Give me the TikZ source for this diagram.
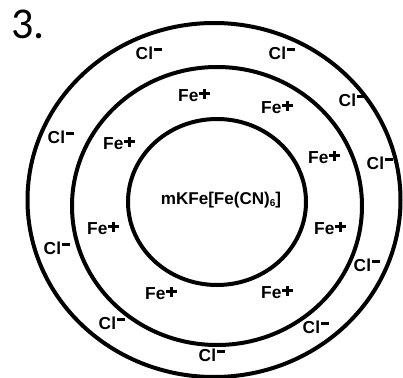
\documentclass[tikz,border=0pt]{standalone}
\usepackage{fontspec}
\setmainfont{Liberation Sans}
\newfontfamily\numfont{Carlito}
% ion labels: chloride with a heavy raised minus, iron with a heavy plus
\newcommand{\chlor}{\textbf{Cl}\hspace{0.08em}\raisebox{0.45em}{\rule{0.45em}{0.19em}}}
\newcommand{\heavyplus}{\rlap{\raisebox{0.36em}{\rule{0.62em}{0.15em}}}\hspace{0.235em}\raisebox{0.12em}{\rule{0.15em}{0.6em}}\hspace{0.235em}}
\newcommand{\ferr}{\textbf{Fe}\hspace{0.04em}\heavyplus}
\begin{document}
\begin{tikzpicture}[x=0.75pt,y=-0.75pt,
  ring/.style={draw=black,line width=3pt},
  ion/.style={inner sep=0pt,font=\fontsize{13}{15}\selectfont},
  core/.style={inner sep=0pt,font=\fontsize{12.8}{14}\selectfont\bfseries}]
\useasboundingbox[fill=white] (0,0) rectangle (403,378);
% three concentric layers
\draw[ring] (214,200) ellipse [x radius=186.5,y radius=177];
\draw[ring] (217,206) ellipse [x radius=145,y radius=139];
\draw[ring] (217,202) ellipse [x radius=89,y radius=83];
% item number
\node[inner sep=0pt,font=\numfont\fontsize{33}{36}\selectfont] (num) at (28,24) {3.};
% core compound
\node[core] (cpd) at (221,200) {mKFe[Fe(CN)\raisebox{-0.12em}{\fontsize{7.5}{8}\selectfont 6}]};
% iron ions in the middle layer
\node[ion] (fe1) at (192,95) {\ferr};
\node[ion] (fe2) at (275,107) {\ferr};
\node[ion] (fe3) at (117,143) {\ferr};
\node[ion] (fe4) at (322,157) {\ferr};
\node[ion] (fe5) at (101,228) {\ferr};
\node[ion] (fe6) at (328,228) {\ferr};
\node[ion] (fe7) at (159,293) {\ferr};
\node[ion] (fe8) at (275,292) {\ferr};
% chloride ions in the outer layer
\node[ion] (cl1) at (149,53) {\chlor};
\node[ion] (cl2) at (282,53) {\chlor};
\node[ion] (cl3) at (352,100) {\chlor};
\node[ion] (cl4) at (380,163) {\chlor};
\node[ion] (cl5) at (61,137) {\chlor};
\node[ion] (cl6) at (57,248) {\chlor};
\node[ion] (cl7) at (367,265) {\chlor};
\node[ion] (cl8) at (112,323) {\chlor};
\node[ion] (cl9) at (316,327) {\chlor};
\node[ion] (cl10) at (212,355) {\chlor};
\end{tikzpicture}
\end{document}
